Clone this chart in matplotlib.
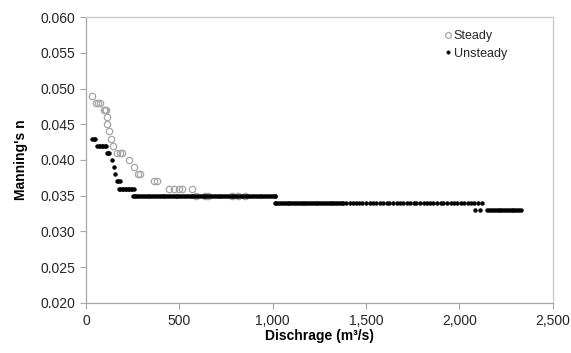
import matplotlib
matplotlib.use("Agg")
import matplotlib.pyplot as plt
from matplotlib.ticker import FuncFormatter

plt.rcParams['font.family'] = ['Liberation Sans', 'DejaVu Sans']

# ---- data ----
steady_x = [34, 55, 65, 75, 96, 100, 105, 111, 115, 123, 134, 146,
            164, 182, 195, 233, 256, 280, 290, 366, 379,
            445, 470, 497, 513, 566, 590, 640, 655, 780, 812, 850]
steady_n = [0.049, 0.048, 0.048, 0.048, 0.047, 0.047, 0.047, 0.046, 0.045, 0.044, 0.043, 0.042,
            0.041, 0.041, 0.041, 0.040, 0.039, 0.038, 0.038, 0.037, 0.037,
            0.036, 0.036, 0.036, 0.036, 0.036, 0.035, 0.035, 0.035, 0.035, 0.035, 0.035]

uns_x_043 = [33, 41, 49]
uns_x_042 = [60, 68, 76, 84, 92, 100, 106]
uns_x_041 = [114, 119, 124]
uns_x_040 = [141]
uns_x_039 = [150]
uns_x_038 = [155]
uns_x_037 = [167, 174, 181]
uns_x_036 = [175, 183, 191, 199, 207, 215, 223, 231, 239, 247, 255]
uns_x_035 = [252, 260, 270, 280, 290, 300, 310, 320, 330, 340, 350, 360, 370, 380, 390,
             400, 410, 420, 430, 440, 450, 460, 470, 480, 490, 500, 510, 520, 530, 540,
             550, 560, 570, 580, 590, 600, 610, 620, 630, 640, 650, 660, 670, 680, 690,
             700, 710, 720, 730, 740, 750, 760, 770, 780, 790, 800, 810, 820, 830, 840,
             850, 860, 870, 880, 890, 900, 910, 920, 930, 940, 950, 960, 970, 980, 990,
             1000, 1010, 1015]
uns_x_034 = [1010, 1020, 1030, 1040, 1050, 1060, 1070, 1080, 1090, 1100, 1110, 1120,
             1130, 1140, 1150, 1160, 1170, 1180, 1190, 1200, 1210, 1220, 1230, 1240,
             1250, 1260, 1270, 1280, 1290, 1300, 1310, 1320, 1330, 1340, 1350, 1360,
             1370, 1378, 1395, 1412, 1430, 1445, 1465, 1480, 1500, 1520, 1540, 1555,
             1575, 1590, 1610, 1625, 1645, 1665, 1680, 1700, 1720, 1735, 1755, 1770,
             1790, 1810, 1825, 1845, 1860, 1880, 1900, 1915, 1935, 1955, 1970, 1990,
             2010, 2025, 2045, 2060, 2080, 2100, 2120]
uns_x_033 = [2084, 2111, 2150, 2160, 2170, 2180, 2190, 2200, 2210, 2220, 2230, 2240,
             2250, 2260, 2270, 2280, 2290, 2300, 2310, 2320, 2330]
uns_levels = [0.043, 0.042, 0.041, 0.040, 0.039, 0.038, 0.037, 0.036, 0.035, 0.034, 0.033]
uns_groups = [uns_x_043, uns_x_042, uns_x_041, uns_x_040, uns_x_039, uns_x_038,
              uns_x_037, uns_x_036, uns_x_035, uns_x_034, uns_x_033]

unsteady_x = []
unsteady_n = []
for lvl, xs in zip(uns_levels, uns_groups):
    unsteady_x += xs
    unsteady_n += [lvl] * len(xs)

x_ticks = [0, 500, 1000, 1500, 2000, 2500]
y_ticks = [0.020, 0.025, 0.030, 0.035, 0.040, 0.045, 0.050, 0.055, 0.060]

# ---- figure ----
fig = plt.figure(figsize=(5.71, 3.53), dpi=100)
ax = fig.add_axes([86/571, 1 - 302.7/353, (552.7 - 86)/571, (302.7 - 17.3)/353])

ax.plot(steady_x, steady_n, linestyle='none', marker='o', markersize=4.6,
        markerfacecolor='none', markeredgecolor='#a6a6a6', markeredgewidth=0.9,
        label='Steady', zorder=2)
ax.plot(unsteady_x, unsteady_n, linestyle='none', marker='o', markersize=2.7,
        markerfacecolor='black', markeredgecolor='black', markeredgewidth=0.4,
        label='Unsteady', zorder=3)

ax.set_xlim(0, 2500)
ax.set_ylim(0.020, 0.060)
ax.set_xticks(x_ticks)
ax.set_yticks(y_ticks)
ax.xaxis.set_major_formatter(FuncFormatter(lambda v, p: f"{v:,.0f}"))
ax.yaxis.set_major_formatter(FuncFormatter(lambda v, p: f"{v:.3f}"))

for s in ax.spines.values():
    s.set_color('#a6a6a6')
    s.set_linewidth(0.9)
ax.spines['top'].set_color('#c8c8c8')
ax.spines['right'].set_color('#c8c8c8')

ax.tick_params(axis='both', direction='out', length=4, width=0.8, color='#a6a6a6',
               labelsize=10, labelcolor='#262626', pad=4)

ax.set_xlabel('Dischrage (m³/s)', fontsize=10, fontweight='bold', labelpad=1)
ax.set_ylabel("Manning's n", fontsize=10, fontweight='bold', labelpad=9)

leg = ax.legend(loc='upper left', bbox_to_anchor=(0.768, 0.955), frameon=False,
                fontsize=9, handlelength=0.5, handletextpad=0.25, labelspacing=0.45,
                borderpad=0, borderaxespad=0, markerscale=0.9)
for t in leg.get_texts():
    t.set_color('#262626')

fig.savefig('out.png', dpi=100)
